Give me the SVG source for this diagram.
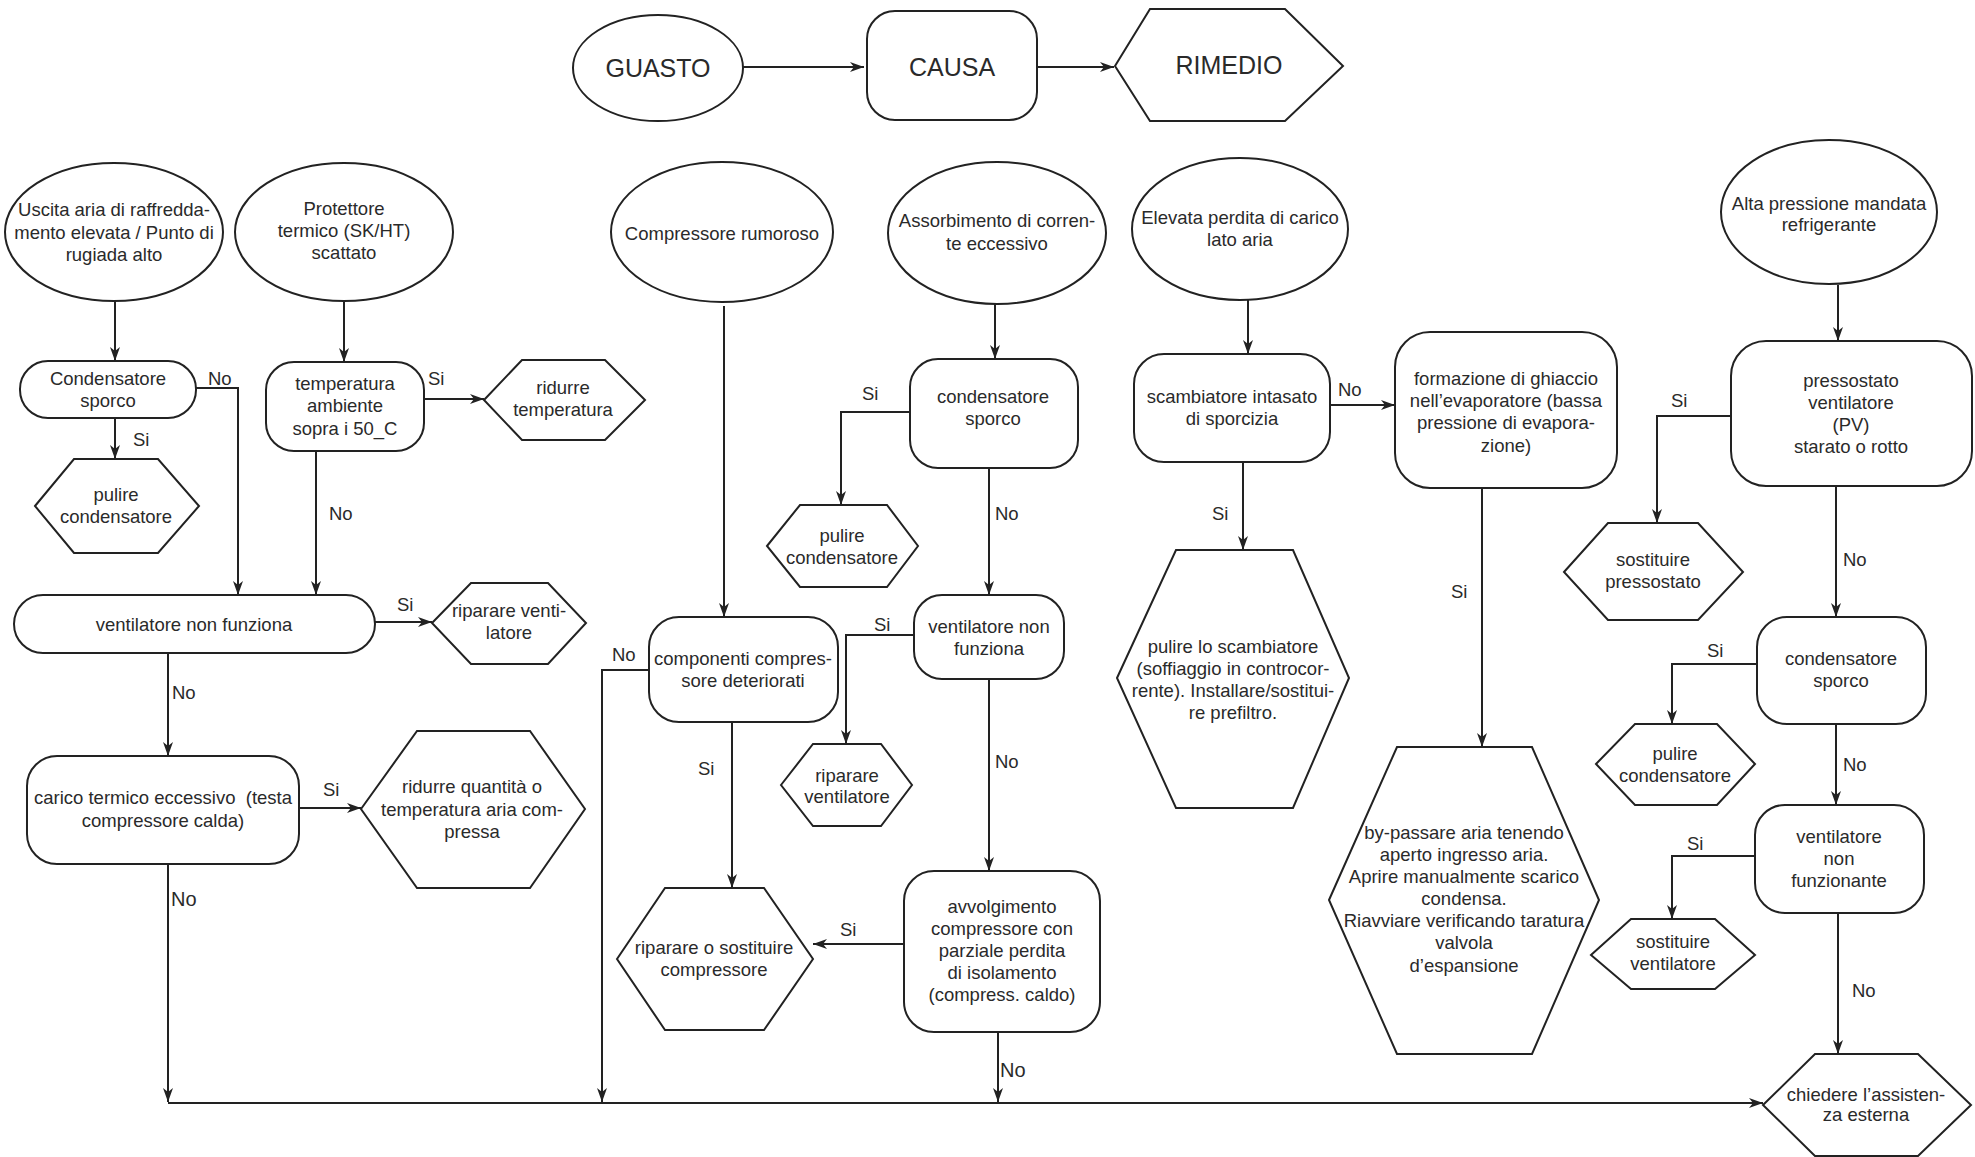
<svg xmlns="http://www.w3.org/2000/svg" width="1975" height="1157" viewBox="0 0 1975 1157">
<style>
.n{fill:#fff;stroke:#222;stroke-width:2}
.t{font-family:"Liberation Sans",Arial,sans-serif;font-size:18.5px;fill:#2a2a2a;text-anchor:middle}
.big{font-size:25px}
.l{font-family:"Liberation Sans",Arial,sans-serif;font-size:18.5px;fill:#2a2a2a}
.l2{font-size:20px}
.c{fill:none;stroke:#222;stroke-width:2;marker-end:url(#arr)}
.p{fill:none;stroke:#222;stroke-width:2}
</style>
<defs>
<marker id="arr" viewBox="0 0 14 10" refX="14" refY="5" markerWidth="14" markerHeight="10" markerUnits="userSpaceOnUse" orient="auto">
<path d="M0,0 L14,5 L0,10 L4,5 z" fill="#222"/>
</marker>
</defs>
<rect width="1975" height="1157" fill="#fff"/>

<g id="connectors">
<path class="c" d="M743,67 H864"/>
<path class="c" d="M1037,67 H1114"/>
<path class="c" d="M115,301 V361"/>
<path class="c" d="M196,388 H238 V595"/>
<path class="c" d="M115,418 V459"/>
<path class="c" d="M344,301 V362"/>
<path class="c" d="M424,399 H484"/>
<path class="c" d="M316,451 V595"/>
<path class="c" d="M375,622 H432"/>
<path class="c" d="M168,653 V756"/>
<path class="c" d="M299,808 H361"/>
<path class="c" d="M168,864 V1102"/>
<path class="c" d="M168,1103 H1763"/>
<path class="c" d="M724,306 V617"/>
<path class="c" d="M649,670 H602 V1102"/>
<path class="c" d="M732,722 V888"/>
<path class="c" d="M995,304 V359"/>
<path class="c" d="M910,412 H841 V505"/>
<path class="c" d="M989,468 V595"/>
<path class="c" d="M914,635 H846 V744"/>
<path class="c" d="M989,679 V871"/>
<path class="c" d="M904,944 H813"/>
<path class="c" d="M998,1032 V1102"/>
<path class="c" d="M1248,300 V354"/>
<path class="c" d="M1243,463 V550"/>
<path class="c" d="M1330,405 H1395"/>
<path class="c" d="M1482,488 V747"/>
<path class="c" d="M1838,285 V341"/>
<path class="c" d="M1731,416 H1657 V523"/>
<path class="c" d="M1836,486 V617"/>
<path class="c" d="M1757,664 H1672 V724"/>
<path class="c" d="M1836,724 V805"/>
<path class="c" d="M1755,856 H1672 V919"/>
<path class="c" d="M1838,913 V1054"/>
<g id="edge-labels">
<text class="l" x="208" y="385">No</text>
<text class="l" x="133" y="446">Si</text>
<text class="l" x="428" y="385">Si</text>
<text class="l" x="329" y="520">No</text>
<text class="l" x="397" y="611">Si</text>
<text class="l" x="172" y="699">No</text>
<text class="l" x="323" y="796">Si</text>
<text class="l l2" x="171" y="906">No</text>
<text class="l" x="612" y="661">No</text>
<text class="l" x="698" y="775">Si</text>
<text class="l" x="862" y="400">Si</text>
<text class="l" x="995" y="520">No</text>
<text class="l" x="874" y="631">Si</text>
<text class="l" x="995" y="768">No</text>
<text class="l" x="840" y="936">Si</text>
<text class="l l2" x="1000" y="1077">No</text>
<text class="l" x="1212" y="520">Si</text>
<text class="l" x="1338" y="396">No</text>
<text class="l" x="1451" y="598">Si</text>
<text class="l" x="1671" y="407">Si</text>
<text class="l" x="1843" y="566">No</text>
<text class="l" x="1707" y="657">Si</text>
<text class="l" x="1843" y="771">No</text>
<text class="l" x="1687" y="850">Si</text>
<text class="l" x="1852" y="997">No</text>
</g>
</g>

<g id="guasto">
<ellipse class="n" cx="658" cy="68" rx="85" ry="53"/>
<text class="t big" x="658" y="77">GUASTO</text>
</g>
<g id="causa">
<rect class="n" x="867" y="11" width="170" height="109" rx="28"/>
<text class="t big" x="952" y="76">CAUSA</text>
</g>
<g id="rimedio">
<polygon class="n" points="1115,66 1150,9 1285,9 1343,66 1285,121 1150,121"/>
<text class="t big" x="1229" y="74">RIMEDIO</text>
</g>

<g id="uscita">
<ellipse class="n" cx="114" cy="232" rx="109" ry="69"/>
<text class="t"><tspan x="114" y="216">Uscita aria di raffredda-</tspan><tspan x="114" y="239">mento elevata / Punto di</tspan><tspan x="114" y="261">rugiada alto</tspan></text>
</g>
<g id="protettore">
<ellipse class="n" cx="344" cy="232" rx="109" ry="69"/>
<text class="t"><tspan x="344" y="215">Protettore</tspan><tspan x="344" y="237">termico (SK/HT)</tspan><tspan x="344" y="259">scattato</tspan></text>
</g>
<g id="compressore-rumoroso">
<ellipse class="n" cx="722" cy="232" rx="111" ry="70"/>
<text class="t" x="722" y="240">Compressore rumoroso</text>
</g>
<g id="assorbimento">
<ellipse class="n" cx="997" cy="233" rx="109" ry="71"/>
<text class="t"><tspan x="997" y="227">Assorbimento di corren-</tspan><tspan x="997" y="250">te eccessivo</tspan></text>
</g>
<g id="elevata">
<ellipse class="n" cx="1240" cy="229" rx="108" ry="71"/>
<text class="t"><tspan x="1240" y="224">Elevata perdita di carico</tspan><tspan x="1240" y="246">lato aria</tspan></text>
</g>
<g id="alta">
<ellipse class="n" cx="1829" cy="212" rx="108" ry="72"/>
<text class="t"><tspan x="1829" y="210">Alta pressione mandata</tspan><tspan x="1829" y="231">refrigerante</tspan></text>
</g>

<g id="condensatore-1">
<rect class="n" x="20" y="361" width="176" height="57" rx="28"/>
<text class="t"><tspan x="108" y="385">Condensatore</tspan><tspan x="108" y="407">sporco</tspan></text>
</g>
<g id="pulire-condensatore-1">
<polygon class="n" points="35,506 74,459 158,459 199,506 158,553 74,553"/>
<text class="t"><tspan x="116" y="501">pulire</tspan><tspan x="116" y="523">condensatore</tspan></text>
</g>
<g id="temperatura">
<rect class="n" x="266" y="362" width="158" height="89" rx="28"/>
<text class="t"><tspan x="345" y="390">temperatura</tspan><tspan x="345" y="412">ambiente</tspan><tspan x="345" y="435">sopra i 50_C</tspan></text>
</g>
<g id="ridurre-temperatura">
<polygon class="n" points="484,400 522,360 605,360 645,400 605,440 522,440"/>
<text class="t"><tspan x="563" y="394">ridurre</tspan><tspan x="563" y="416">temperatura</tspan></text>
</g>
<g id="ventilatore-1">
<rect class="n" x="14" y="595" width="361" height="58" rx="29"/>
<text class="t" x="194" y="631">ventilatore non funziona</text>
</g>
<g id="riparare-ventilatore-1">
<polygon class="n" points="432,623 471,583 548,583 586,623 548,664 471,664"/>
<text class="t"><tspan x="509" y="617">riparare venti-</tspan><tspan x="509" y="639">latore</tspan></text>
</g>
<g id="carico">
<rect class="n" x="27" y="756" width="272" height="108" rx="30"/>
<text class="t" xml:space="preserve"><tspan x="163" y="804">carico termico eccessivo  (testa</tspan><tspan x="163" y="827">compressore calda)</tspan></text>
</g>
<g id="ridurre-quantita">
<polygon class="n" points="361,809 417,731 530,731 585,809 530,888 417,888"/>
<text class="t"><tspan x="472" y="793">ridurre quantità o</tspan><tspan x="472" y="816">temperatura aria com-</tspan><tspan x="472" y="838">pressa</tspan></text>
</g>

<g id="componenti">
<rect class="n" x="649" y="617" width="189" height="105" rx="30"/>
<text class="t"><tspan x="743" y="665">componenti compres-</tspan><tspan x="743" y="687">sore deteriorati</tspan></text>
</g>
<g id="riparare-compressore">
<polygon class="n" points="617,959 665,888 764,888 813,959 764,1030 665,1030"/>
<text class="t"><tspan x="714" y="954">riparare o sostituire</tspan><tspan x="714" y="976">compressore</tspan></text>
</g>
<g id="condensatore-2">
<rect class="n" x="910" y="359" width="168" height="109" rx="28"/>
<text class="t"><tspan x="993" y="403">condensatore</tspan><tspan x="993" y="425">sporco</tspan></text>
</g>
<g id="pulire-condensatore-2">
<polygon class="n" points="767,546 800,505 887,505 918,546 887,587 800,587"/>
<text class="t"><tspan x="842" y="542">pulire</tspan><tspan x="842" y="564">condensatore</tspan></text>
</g>
<g id="ventilatore-2">
<rect class="n" x="914" y="595" width="150" height="84" rx="28"/>
<text class="t"><tspan x="989" y="633">ventilatore non</tspan><tspan x="989" y="655">funziona</tspan></text>
</g>
<g id="riparare-ventilatore-2">
<polygon class="n" points="781,785 813,744 881,744 912,785 881,826 813,826"/>
<text class="t"><tspan x="847" y="782">riparare</tspan><tspan x="847" y="803">ventilatore</tspan></text>
</g>
<g id="avvolgimento">
<rect class="n" x="904" y="871" width="196" height="161" rx="30"/>
<text class="t"><tspan x="1002" y="913">avvolgimento</tspan><tspan x="1002" y="935">compressore con</tspan><tspan x="1002" y="957">parziale perdita</tspan><tspan x="1002" y="979">di isolamento</tspan><tspan x="1002" y="1001">(compress. caldo)</tspan></text>
</g>

<g id="scambiatore">
<rect class="n" x="1134" y="354" width="196" height="108" rx="30"/>
<text class="t"><tspan x="1232" y="403">scambiatore intasato</tspan><tspan x="1232" y="425">di sporcizia</tspan></text>
</g>
<g id="pulire-scambiatore">
<polygon class="n" points="1117,678 1176,550 1293,550 1349,678 1293,808 1176,808"/>
<text class="t"><tspan x="1233" y="653">pulire lo scambiatore</tspan><tspan x="1233" y="675">(soffiaggio in controcor-</tspan><tspan x="1233" y="697">rente). Installare/sostitui-</tspan><tspan x="1233" y="719">re prefiltro.</tspan></text>
</g>
<g id="formazione">
<rect class="n" x="1395" y="332" width="222" height="156" rx="35"/>
<text class="t"><tspan x="1506" y="385">formazione di ghiaccio</tspan><tspan x="1506" y="407">nell’evaporatore (bassa</tspan><tspan x="1506" y="429">pressione di evapora-</tspan><tspan x="1506" y="452">zione)</tspan></text>
</g>
<g id="by-passare">
<polygon class="n" points="1329,900 1397,747 1532,747 1599,900 1532,1054 1397,1054"/>
<text class="t"><tspan x="1464" y="839">by-passare aria tenendo</tspan><tspan x="1464" y="861">aperto ingresso aria.</tspan><tspan x="1464" y="883">Aprire manualmente scarico</tspan><tspan x="1464" y="905">condensa.</tspan><tspan x="1464" y="927">Riavviare verificando taratura</tspan><tspan x="1464" y="949">valvola</tspan><tspan x="1464" y="972">d’espansione</tspan></text>
</g>

<g id="pressostato">
<rect class="n" x="1731" y="341" width="241" height="145" rx="35"/>
<text class="t"><tspan x="1851" y="387">pressostato</tspan><tspan x="1851" y="409">ventilatore</tspan><tspan x="1851" y="431">(PV)</tspan><tspan x="1851" y="453">starato o rotto</tspan></text>
</g>
<g id="sostituire-pressostato">
<polygon class="n" points="1564,572 1608,523 1698,523 1743,572 1698,620 1608,620"/>
<text class="t"><tspan x="1653" y="566">sostituire</tspan><tspan x="1653" y="588">pressostato</tspan></text>
</g>
<g id="condensatore-3">
<rect class="n" x="1757" y="617" width="169" height="107" rx="30"/>
<text class="t"><tspan x="1841" y="665">condensatore</tspan><tspan x="1841" y="687">sporco</tspan></text>
</g>
<g id="pulire-condensatore-3">
<polygon class="n" points="1596,764 1635,724 1717,724 1755,764 1717,805 1635,805"/>
<text class="t"><tspan x="1675" y="760">pulire</tspan><tspan x="1675" y="782">condensatore</tspan></text>
</g>
<g id="ventilatore-3">
<rect class="n" x="1755" y="805" width="169" height="108" rx="30"/>
<text class="t"><tspan x="1839" y="843">ventilatore</tspan><tspan x="1839" y="865">non</tspan><tspan x="1839" y="887">funzionante</tspan></text>
</g>
<g id="sostituire-ventilatore">
<polygon class="n" points="1591,955 1631,919 1715,919 1755,955 1715,989 1631,989"/>
<text class="t"><tspan x="1673" y="948">sostituire</tspan><tspan x="1673" y="970">ventilatore</tspan></text>
</g>
<g id="chiedere">
<polygon class="n" points="1763,1105 1815,1054 1918,1054 1971,1105 1918,1156 1815,1156"/>
<text class="t"><tspan x="1866" y="1101">chiedere l’assisten-</tspan><tspan x="1866" y="1121">za esterna</tspan></text>
</g>
</svg>
